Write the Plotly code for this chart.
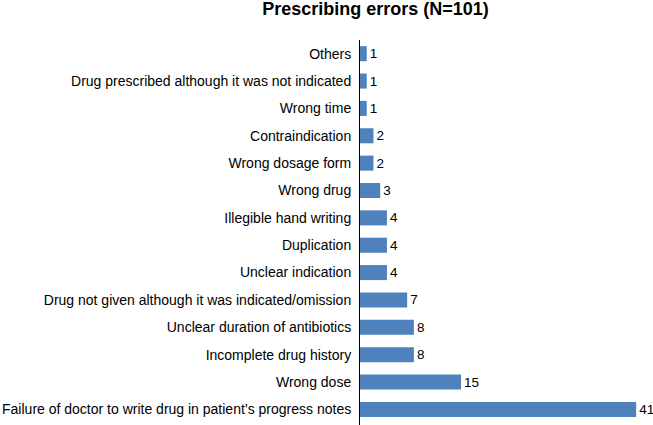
import plotly.graph_objects as go

categories = [
    "Failure of doctor to write drug in patient\u2019s progress notes",
    "Wrong dose",
    "Incomplete drug history",
    "Unclear duration of antibiotics",
    "Drug not given although it was indicated/omission",
    "Unclear indication",
    "Duplication",
    "Illegible hand writing",
    "Wrong drug",
    "Wrong dosage form",
    "Contraindication",
    "Wrong time",
    "Drug prescribed although it was not indicated",
    "Others",
]
values = [41, 15, 8, 8, 7, 4, 4, 4, 3, 2, 2, 1, 1, 1]

fig = go.Figure(go.Bar(
    y=categories, x=values, orientation="h",
    marker=dict(color="#4F81BD", line=dict(width=0)),
    text=[str(v) for v in values], textposition="outside",
    constraintext="none",
    textfont=dict(family="Liberation Sans, Arial, sans-serif", size=13.5, color="#000000"),
    cliponaxis=False,
))

fig.update_layout(
    width=653, height=425,
    margin=dict(l=360, r=0, t=40, b=0, autoexpand=False),
    paper_bgcolor="white", plot_bgcolor="white",
    bargap=0.45,
    showlegend=False,
    font=dict(family="Liberation Sans, Arial, sans-serif", size=14, color="#000000"),
    title=dict(text="<b>Prescribing errors (N=101)</b>", x=375.5/653, xanchor="center",
               y=1 - 9/425, yanchor="middle",
               font=dict(size=18, family="Liberation Sans, Arial, sans-serif", color="#000000")),
    xaxis=dict(range=[0, 43.5], visible=False, fixedrange=True, automargin=False),
    yaxis=dict(showline=True, linecolor="#000000", linewidth=1, ticks="outside", ticklen=5,
               tickcolor="rgba(0,0,0,0)", showgrid=False, zeroline=False, fixedrange=True,
               automargin=False, range=[-0.57, 13.5],
               categoryorder="array", categoryarray=categories),
)

fig.write_html("out.html", config={"displayModeBar": False, "staticPlot": True},
               post_script="document.body.style.margin='0';document.body.style.overflow='hidden';")
